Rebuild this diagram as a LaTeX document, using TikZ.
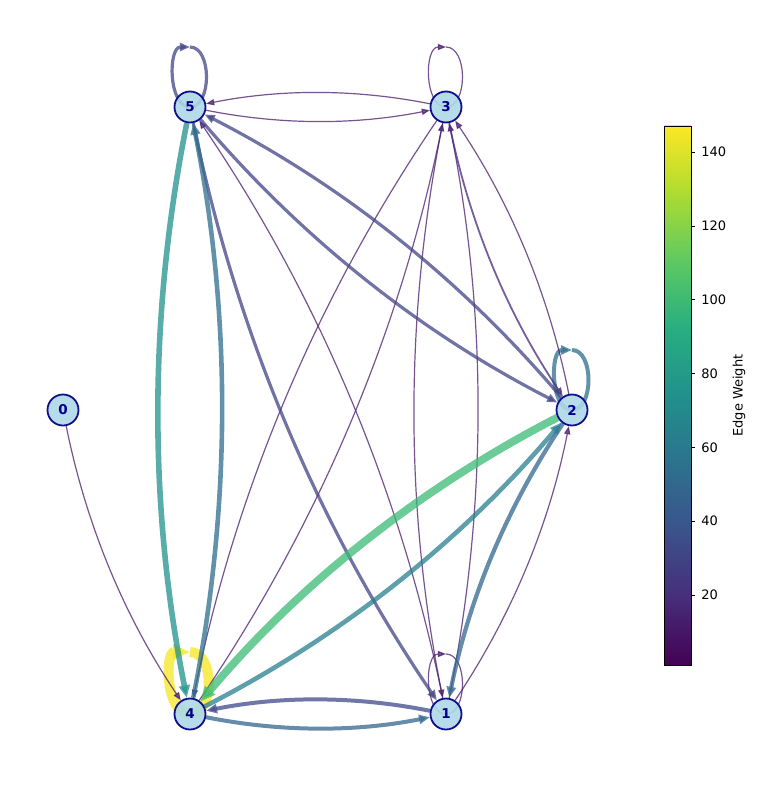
\documentclass[tikz,border=0pt]{standalone}
\usepackage{fontspec}
\setmainfont{DejaVu Sans}
\usetikzlibrary{arrows.meta}
\pgfdeclarelayer{edges}
\pgfsetlayers{edges,main}
% viridis stops
\definecolor{v0}{HTML}{440154}
\definecolor{v1}{HTML}{472D7B}
\definecolor{v2}{HTML}{3B528B}
\definecolor{v3}{HTML}{2C728E}
\definecolor{v4}{HTML}{21918C}
\definecolor{v5}{HTML}{28AE80}
\definecolor{v6}{HTML}{5EC962}
\definecolor{v7}{HTML}{ADDC30}
\definecolor{v8}{HTML}{FDE725}
% edge colours
\definecolor{cthin}{HTML}{481A6C}
\definecolor{cthr}{HTML}{472A7A}
\definecolor{cmid}{HTML}{414487}
\definecolor{conefour}{HTML}{3E4989}
\definecolor{cblue}{HTML}{32668E}
\definecolor{cbltl}{HTML}{2E6E8E}
\definecolor{cfourtwo}{HTML}{277F8E}
\definecolor{cteal}{HTML}{21918C}
\definecolor{cgreen}{HTML}{3BBB75}
\definecolor{cyell}{HTML}{F6E620}
% nodes
\definecolor{ndfill}{HTML}{ADD8E6}
\definecolor{ndline}{HTML}{10108C}
\definecolor{ndtext}{HTML}{00008B}
\begin{document}
\begin{tikzpicture}[x=1pt,y=-1pt,
  nd/.style={circle, minimum size=31pt, inner sep=0pt, draw=ndline, line width=1.8pt,
    fill=ndfill, fill opacity=0.9, text opacity=1, text=ndtext,
    font=\bfseries\fontsize{13.5}{14}\selectfont},
  tipped/.style={-{Triangle[length=7pt 1, width=5pt 1]}, opacity=0.75},
  ed/.style={tipped, bend right=11.3, looseness=0.87},
  thin/.style={line width=1.2pt, draw=cthin},
  mid/.style={line width=3.2pt, draw=cmid},
  cbtick/.style={line width=0.8pt},
  cblabel/.style={anchor=west, inner sep=0pt, font=\fontsize{13}{14}\selectfont}
]
\useasboundingbox (0,0) rectangle (757,790);

% nodes
\node[nd] (n0) at (63,410) {0};
\node[nd] (n1) at (446,714) {1};
\node[nd] (n2) at (572,410) {2};
\node[nd] (n3) at (446,107) {3};
\node[nd] (n4) at (190,714) {4};
\node[nd] (n5) at (190,107) {5};

% loop tops
\coordinate (t5) at (190,47);
\coordinate (t3) at (446,47);
\coordinate (t2) at (572,350);
\coordinate (t1) at (446,654);
\coordinate (t4) at (190,652);

\begin{pgfonlayer}{edges}
% yellow self loop at 4
\draw[tipped, line width=10pt, draw=cyell] (t4) .. controls +(25,0) and +(25,0) .. (n4.center) .. controls +(-25,0) and +(-25,0) .. (t4);
% other self loops
\draw[tipped, mid] (t5) .. controls +(22,0) and +(22,0) .. (n5.center) .. controls +(-22,0) and +(-22,0) .. (t5);
\draw[tipped, thin] (t3) .. controls +(22,0) and +(22,0) .. (n3.center) .. controls +(-22,0) and +(-22,0) .. (t3);
\draw[tipped, line width=4pt, draw=cbltl] (t2) .. controls +(22,0) and +(22,0) .. (n2.center) .. controls +(-22,0) and +(-22,0) .. (t2);
\draw[tipped, thin] (t1) .. controls +(22,0) and +(22,0) .. (n1.center) .. controls +(-22,0) and +(-22,0) .. (t1);

% thin edges
\draw[ed, thin] (n5) to (n3);
\draw[ed, thin] (n3) to (n5);
\draw[ed, thin] (n1) to (n5);
\draw[ed, thin] (n3) to (n4);
\draw[ed, thin] (n4) to (n3);
\draw[ed, thin] (n3) to (n1);
\draw[ed, thin] (n1) to (n3);
\draw[ed, thin] (n2) to (n3);
\draw[ed, thin] (n1) to (n2);
\draw[ed, thin] (n0) to (n4);
\draw[ed, line width=1.8pt, draw=cthr] (n3) to (n2);

% medium purple-blue edges
\draw[ed, mid] (n5) to (n2);
\draw[ed, mid] (n2) to (n5);
\draw[ed, mid] (n5) to (n1);

% blue edges
\draw[ed, line width=4pt, draw=conefour] (n1) to (n4);
\draw[ed, line width=4pt, draw=cblue] (n4) to (n1);
\draw[ed, line width=4.2pt, draw=cblue] (n2) to (n1);
\draw[ed, line width=4.6pt, draw=cbltl] (n4) to (n5);
\draw[ed, line width=4.6pt, draw=cfourtwo] (n4) to (n2);
\draw[ed, line width=5.6pt, draw=cteal] (n5) to (n4);
\draw[ed, line width=7.8pt, draw=cgreen] (n2) to (n4);
\end{pgfonlayer}

% colour bar
\foreach \a/\b/\ya/\yb in {v0/v1/665/597.6, v1/v2/597.6/530.25, v2/v3/530.25/462.9, v3/v4/462.9/395.5,
  v4/v5/395.5/328.1, v5/v6/328.1/260.75, v6/v7/260.75/193.4, v7/v8/193.4/126}
  \shade[bottom color=\a, top color=\b] (664,\ya+0.4) rectangle (691,\yb-0.4);
\draw[line width=0.8pt] (664,126) rectangle (691,665);
\foreach \v/\y in {20/594.9, 40/521.1, 60/447.3, 80/373.5, 100/299.7, 120/225.9, 140/152.1}
  \draw[cbtick] (691,\y) -- (695,\y) node[cblabel, xshift=6pt] {\v};
\node[rotate=90, font=\fontsize{13}{14}\selectfont] (cbl) at (739,395.5) {Edge Weight};
\end{tikzpicture}
\end{document}
